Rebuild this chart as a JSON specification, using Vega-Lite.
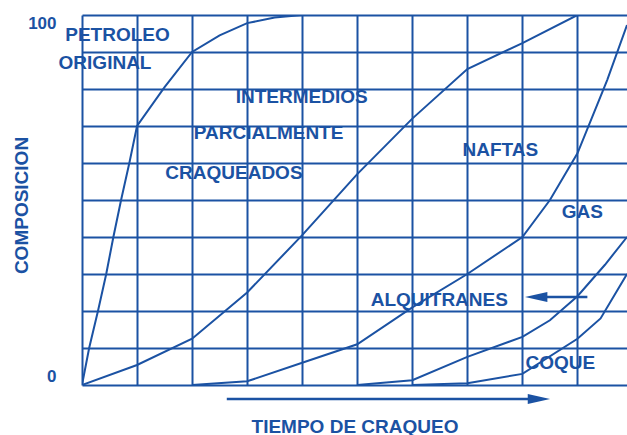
{
  "$schema": "https://vega.github.io/schema/vega-lite/v6.json",
  "width": 545,
  "height": 370,
  "autosize": "none",
  "padding": {"left": 82, "top": 15, "right": 0, "bottom": 50},
  "background": "white",
  "config": {
    "view": {"stroke": null},
    "font": "Liberation Sans",
    "text": {"font": "Liberation Sans"}
  },
  "datasets": {
    "curves": [
      {"serie": "petroleo", "x": 0, "y": 0},
      {"serie": "petroleo", "x": 0.13, "y": 10},
      {"serie": "petroleo", "x": 0.29, "y": 20},
      {"serie": "petroleo", "x": 0.44, "y": 30},
      {"serie": "petroleo", "x": 0.57, "y": 40},
      {"serie": "petroleo", "x": 0.71, "y": 50},
      {"serie": "petroleo", "x": 0.86, "y": 60},
      {"serie": "petroleo", "x": 1, "y": 70},
      {"serie": "petroleo", "x": 1.5, "y": 80.5},
      {"serie": "petroleo", "x": 2, "y": 90},
      {"serie": "petroleo", "x": 2.5, "y": 94.5},
      {"serie": "petroleo", "x": 3, "y": 97.8},
      {"serie": "petroleo", "x": 3.5, "y": 99.3},
      {"serie": "petroleo", "x": 4, "y": 100},
      {"serie": "petroleo", "x": 9.9, "y": 100},
      {"serie": "intermedios", "x": 0, "y": 0},
      {"serie": "intermedios", "x": 1, "y": 5.4},
      {"serie": "intermedios", "x": 2, "y": 12.5},
      {"serie": "intermedios", "x": 3, "y": 25},
      {"serie": "intermedios", "x": 4, "y": 40.5},
      {"serie": "intermedios", "x": 5, "y": 57},
      {"serie": "intermedios", "x": 6, "y": 72},
      {"serie": "intermedios", "x": 7, "y": 85.4},
      {"serie": "intermedios", "x": 8, "y": 92.4},
      {"serie": "intermedios", "x": 9, "y": 100},
      {"serie": "intermedios", "x": 9.9, "y": 100},
      {"serie": "naftas", "x": 2, "y": 0},
      {"serie": "naftas", "x": 3, "y": 1},
      {"serie": "naftas", "x": 4, "y": 6},
      {"serie": "naftas", "x": 5, "y": 11},
      {"serie": "naftas", "x": 6, "y": 21},
      {"serie": "naftas", "x": 7, "y": 30},
      {"serie": "naftas", "x": 8, "y": 40},
      {"serie": "naftas", "x": 8.5, "y": 50},
      {"serie": "naftas", "x": 9, "y": 62.6},
      {"serie": "naftas", "x": 9.54, "y": 82.4},
      {"serie": "naftas", "x": 9.9, "y": 97.3},
      {"serie": "gas", "x": 5, "y": 0},
      {"serie": "gas", "x": 6, "y": 1.3},
      {"serie": "gas", "x": 7, "y": 7.6},
      {"serie": "gas", "x": 8, "y": 13},
      {"serie": "gas", "x": 8.5, "y": 17.5},
      {"serie": "gas", "x": 9, "y": 24},
      {"serie": "gas", "x": 9.5, "y": 32.5},
      {"serie": "gas", "x": 9.9, "y": 40},
      {"serie": "coque", "x": 6, "y": 0},
      {"serie": "coque", "x": 7, "y": 0.5},
      {"serie": "coque", "x": 8, "y": 3},
      {"serie": "coque", "x": 9, "y": 12.5},
      {"serie": "coque", "x": 9.42, "y": 18},
      {"serie": "coque", "x": 9.9, "y": 30}
    ],
    "labels": [
      {"label": "PETROLEO", "x": 0.645, "y": 94.6, "align": "center"},
      {"label": "ORIGINAL", "x": 0.418, "y": 86.9, "align": "center"},
      {"label": "INTERMEDIOS", "x": 3.99, "y": 77.8, "align": "center"},
      {"label": "PARCIALMENTE", "x": 3.39, "y": 68.1, "align": "center"},
      {"label": "CRAQUEADOS", "x": 2.76, "y": 57.3, "align": "center"},
      {"label": "NAFTAS", "x": 7.6, "y": 63.5, "align": "center"},
      {"label": "GAS", "x": 9.09, "y": 46.8, "align": "center"},
      {"label": "ALQUITRANES", "x": 6.49, "y": 23.0, "align": "center"},
      {"label": "COQUE", "x": 8.69, "y": 5.9, "align": "left"}
    ],
    "shafts": [
      {"arrow": "tiempo", "x": 2.63, "x2": 8.2, "y": -3.78},
      {"arrow": "alquitranes", "x": 8.3, "x2": 9.18, "y": 23.8}
    ],
    "heads": [
      {"arrow": "tiempo", "x": 8.3, "y": -3.78, "dir": "right"},
      {"arrow": "alquitranes", "x": 8.25, "y": 23.8, "dir": "left"}
    ]
  },
  "encoding": {
    "x": {
      "field": "x",
      "type": "quantitative",
      "scale": {"domain": [0, 9.9], "nice": false, "zero": false},
      "axis": {
        "values": [0, 1, 2, 3, 4, 5, 6, 7, 8, 9],
        "grid": true,
        "gridColor": "#1b52a3",
        "gridWidth": 2,
        "gridOpacity": 1,
        "domain": false,
        "ticks": false,
        "labels": false,
        "title": "TIEMPO DE CRAQUEO",
        "titleColor": "#1b52a3",
        "titleFont": "Liberation Sans",
        "titleFontSize": 19,
        "titleFontWeight": "bold",
        "titleBaseline": "middle",
        "titleY": 41
      }
    },
    "y": {
      "field": "y",
      "type": "quantitative",
      "scale": {"domain": [0, 100], "nice": false},
      "axis": {
        "values": [0, 10, 20, 30, 40, 50, 60, 70, 80, 90, 100],
        "grid": true,
        "gridColor": "#1b52a3",
        "gridWidth": 2,
        "gridOpacity": 1,
        "domain": false,
        "ticks": false,
        "labelExpr": "datum.value == 0 || datum.value == 100 ? datum.label : ''",
        "labelColor": "#1b52a3",
        "labelFont": "Liberation Sans",
        "labelFontSize": 17,
        "labelFontWeight": "bold",
        "labelPadding": 26,
        "labelBaseline": {"condition": {"test": "datum.value == 100", "value": "top"}, "value": "bottom"},
        "title": "COMPOSICION",
        "titleColor": "#1b52a3",
        "titleFont": "Liberation Sans",
        "titleFontSize": 19,
        "titleFontWeight": "bold",
        "titleAngle": -90,
        "titleBaseline": "middle",
        "titleX": -61,
        "titleY": 190
      }
    }
  },
  "layer": [
    {
      "data": {"name": "curves"},
      "mark": {"type": "line", "color": "#1b52a3", "strokeWidth": 2, "interpolate": "linear", "clip": true},
      "encoding": {"detail": {"field": "serie", "type": "nominal"}}
    },
    {
      "data": {"name": "labels"},
      "mark": {"type": "text", "color": "#1b52a3", "fontSize": 19, "fontWeight": "bold", "baseline": "middle"},
      "encoding": {
        "text": {"field": "label", "type": "nominal"},
        "align": {"field": "align", "type": "nominal", "scale": null}
      }
    },
    {
      "data": {"name": "shafts"},
      "mark": {"type": "rule", "color": "#1b52a3", "strokeWidth": 2.5},
      "encoding": {"x2": {"field": "x2"}}
    },
    {
      "data": {"name": "heads"},
      "mark": {"type": "point", "filled": true, "color": "#1b52a3", "opacity": 1, "size": 500},
      "encoding": {
        "shape": {
          "field": "dir",
          "type": "nominal",
          "scale": {"domain": ["right", "left"], "range": ["M -1 -0.45 L 1 0 L -1 0.45 Z", "M 1 -0.45 L -1 0 L 1 0.45 Z"]},
          "legend": null
        }
      }
    }
  ]
}
